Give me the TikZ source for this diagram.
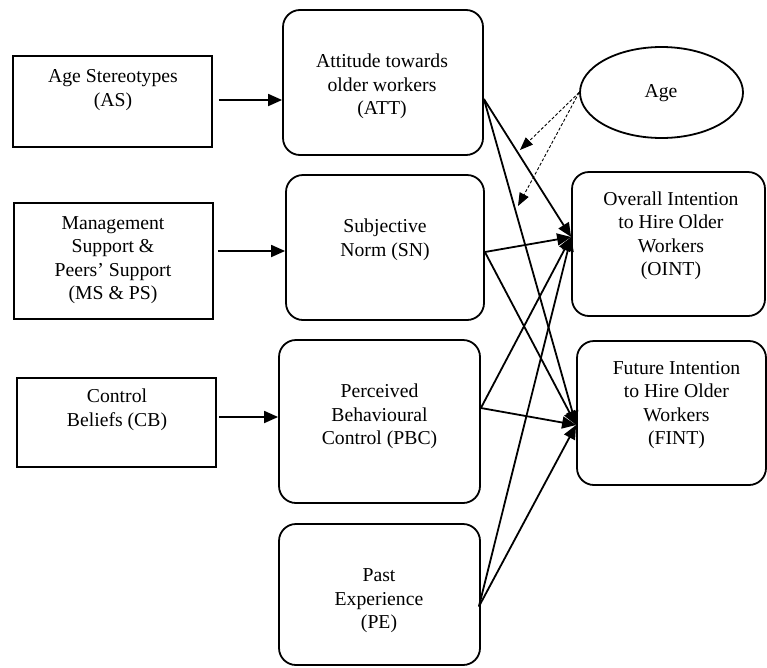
\documentclass[tikz,border=0pt]{standalone}
\usepackage{fontspec}
\setmainfont{Liberation Serif}
\usetikzlibrary{arrows.meta,calc,shapes.geometric}
\begin{document}
\begin{tikzpicture}[x=1pt,y=-1pt,
  sqbox/.style={draw,line width=1.8pt,inner sep=0pt},
  rbox/.style={draw,line width=1.8pt,inner sep=0pt,rounded corners=17pt},
  oval/.style={draw,line width=1.8pt,inner sep=0pt,ellipse},
  lbl/.style={align=center,inner sep=0pt,font=\fontsize{19.7}{23.5}\selectfont},
  arr/.style={line width=1.8pt,-{Triangle[length=14pt,width=12pt]}},
  dasharr/.style={densely dashed,line width=0.9pt,-{Triangle[length=13pt,width=10pt]}}
]
\useasboundingbox (0,0) rectangle (767,667);

% antecedent boxes (left column)
\node[sqbox,minimum width=199pt,minimum height=91pt] (AS) at (112.5,101.5) {};
\node[lbl] (ASt) at (113,90) {Age Stereotypes\\(AS)};
\node[sqbox,minimum width=199pt,minimum height=116pt] (MS) at (113.5,261) {};
\node[lbl] (MSt) at (113,260) {Management\\Support \&\\Peers’ Support\\(MS \& PS)};
\node[sqbox,minimum width=199pt,minimum height=89pt] (CB) at (116.5,422.5) {};
\node[lbl] (CBt) at (117,410) {Control\\Beliefs (CB)};

% TPB constructs (middle column)
\node[rbox,minimum width=200pt,minimum height=145pt] (ATT) at (383,82.5) {};
\node[lbl] (ATTt) at (382,86.5) {Attitude towards\\older workers\\(ATT)};
\node[rbox,minimum width=198pt,minimum height=145pt] (SN) at (385,247.5) {};
\node[lbl] (SNt) at (385,240) {Subjective\\Norm (SN)};
\node[rbox,minimum width=201pt,minimum height=163pt] (PBC) at (379.5,421.5) {};
\node[lbl] (PBCt) at (379.5,416.5) {Perceived\\Behavioural\\Control (PBC)};
\node[rbox,minimum width=201pt,minimum height=141pt] (PE) at (379.5,594.5) {};
\node[lbl] (PEt) at (379,601) {Past\\Experience\\(PE)};

% outcomes and moderator (right column)
\node[oval,minimum width=163pt,minimum height=91pt] (AGE) at (661.5,92.5) {};
\node[lbl] (AGEt) at (661,93) {Age};
\node[rbox,minimum width=193pt,minimum height=144pt] (OINT) at (668.5,244) {};
\node[lbl] (OINTt) at (671,236) {Overall Intention\\to Hire Older\\Workers\\(OINT)};
\node[rbox,minimum width=189pt,minimum height=144pt] (FINT) at (671.5,413) {};
\node[lbl] (FINTt) at (676.5,405) {Future Intention\\to Hire Older\\Workers\\(FINT)};

% start points of the horizontal links
\coordinate (asout) at ($(AS.east)+(6,-1.5)$);
\coordinate (msout) at ($(MS.east)+(4,-10)$);
\coordinate (cbout) at ($(CB.east)+(2,-5.5)$);

% antecedents -> constructs
\draw[arr] (asout) -- (asout -| ATT.west);
\draw[arr] (msout) -- (msout -| SN.west);
\draw[arr] (cbout) -- (cbout -| PBC.west);

% exit points on the constructs, entry points on the outcomes
\coordinate (attout) at ($(ATT.east)+(0,16.5)$);
\coordinate (snout) at ($(SN.east)+(0,4.5)$);
\coordinate (pbcout) at ($(PBC.east)+(0,-13.5)$);
\coordinate (peout) at ($(PE.east)+(-2,12)$);
\coordinate (oin) at ($(OINT.west)+(0,-7)$);
\coordinate (fin) at ($(FINT.west)+(0,12)$);

% constructs -> intentions
\foreach \s in {attout,snout,pbcout,peout}{
  \draw[arr] (\s) -- (oin);
  \draw[arr] (\s) -- (fin);
}

% moderating effect of age
\coordinate (m1) at (520,150);
\coordinate (m2) at (518,206);
\draw[dasharr] (AGE.west) -- (m1);
\draw[dasharr] (AGE.west) -- (m2);
\end{tikzpicture}
\end{document}
